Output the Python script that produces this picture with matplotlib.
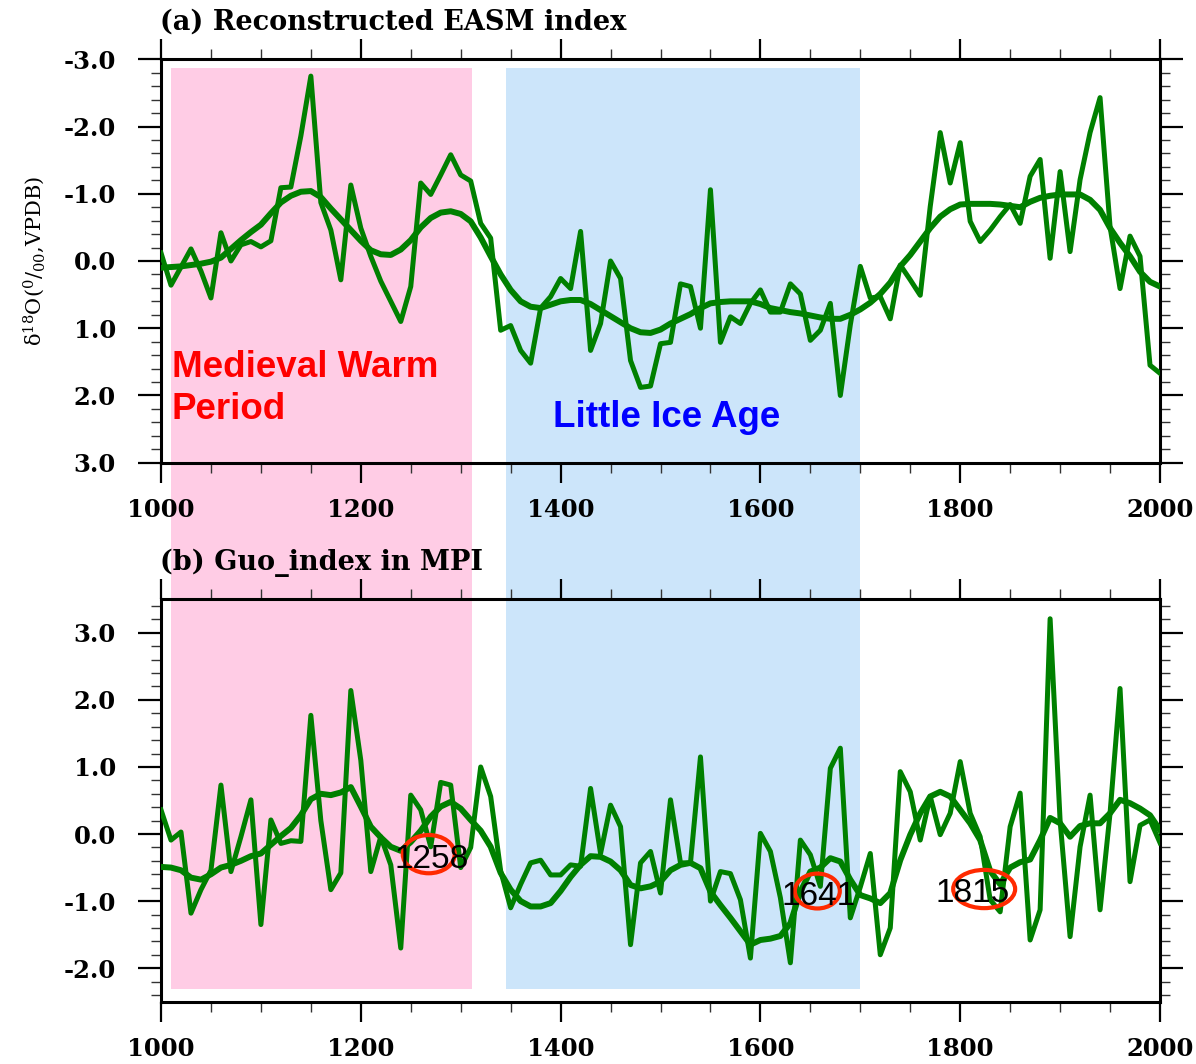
import numpy as np
import matplotlib
matplotlib.use("Agg")
import matplotlib.pyplot as plt
from matplotlib.patches import Ellipse, Rectangle
from matplotlib.ticker import MultipleLocator, FormatStrFormatter
from matplotlib.transforms import blended_transform_factory

plt.rcParams['axes.unicode_minus'] = False
plt.rcParams['mathtext.fontset'] = 'custom'
plt.rcParams['mathtext.rm'] = 'DejaVu Serif'
plt.rcParams['mathtext.it'] = 'DejaVu Serif:italic'

# ---------------- data ----------------
years = list(range(1000, 2001, 10))

easm_recon = [
    -0.12, 0.36, 0.09, -0.18, 0.15, 0.55, -0.42, 0.00, -0.24, -0.29,
    -0.21, -0.30, -1.09, -1.10, -1.86, -2.75, -0.87, -0.46, 0.28, -1.13,
    -0.49, -0.07, 0.30, 0.60, 0.90, 0.38, -1.16, -0.99, -1.28, -1.58,
    -1.28, -1.19, -0.56, -0.34, 1.03, 0.96, 1.33, 1.52, 0.70, 0.53,
    0.26, 0.41, -0.44, 1.33, 0.93, 0.00, 0.26, 1.48, 1.88, 1.86,
    1.23, 1.21, 0.34, 0.38, 1.00, -1.06, 1.21, 0.83, 0.93, 0.63,
    0.43, 0.76, 0.76, 0.34, 0.49, 1.18, 1.03, 0.63, 2.00, 0.95,
    0.08, 0.55, 0.53, 0.86, 0.06, 0.28, 0.51, -0.81, -1.91, -1.16,
    -1.76, -0.59, -0.29, -0.46, -0.66, -0.84, -0.56, -1.26, -1.51, -0.04,
    -1.33, -0.14, -1.21, -1.91, -2.43, -0.51, 0.41, -0.37, -0.07, 1.55,
    1.67]

easm_smooth = [
    0.10, 0.09, 0.08, 0.06, 0.04, 0.01, -0.05, -0.18, -0.31, -0.43,
    -0.54, -0.71, -0.87, -0.97, -1.03, -1.04, -0.95, -0.78, -0.62, -0.46,
    -0.30, -0.16, -0.10, -0.09, -0.17, -0.31, -0.50, -0.64, -0.72, -0.74,
    -0.70, -0.59, -0.35, -0.07, 0.20, 0.43, 0.60, 0.68, 0.70, 0.65,
    0.60, 0.58, 0.58, 0.64, 0.73, 0.82, 0.91, 1.00, 1.06, 1.07,
    1.02, 0.93, 0.86, 0.79, 0.70, 0.63, 0.61, 0.60, 0.60, 0.60,
    0.64, 0.70, 0.73, 0.76, 0.78, 0.81, 0.84, 0.86, 0.86, 0.80,
    0.72, 0.62, 0.49, 0.32, 0.08, -0.09, -0.29, -0.49, -0.66, -0.77,
    -0.84, -0.85, -0.85, -0.85, -0.84, -0.82, -0.80, -0.88, -0.94, -0.97,
    -0.99, -0.99, -0.99, -0.91, -0.76, -0.49, -0.27, -0.07, 0.16, 0.31,
    0.38]

guo_index = [
    0.36, -0.09, 0.03, -1.18, -0.83, -0.54, 0.73, -0.56, -0.04, 0.51,
    -1.35, 0.21, -0.14, -0.10, -0.11, 1.77, 0.20, -0.83, -0.58, 2.14,
    1.10, -0.56, -0.04, -0.46, -1.70, 0.58, 0.36, -0.19, 0.77, 0.73,
    -0.50, -0.20, 1.00, 0.56, -0.55, -1.10, -0.75, -0.43, -0.39, -0.61,
    -0.61, -0.46, -0.48, 0.68, -0.29, 0.43, 0.11, -1.65, -0.43, -0.26,
    -0.88, 0.51, -0.43, -0.43, 1.15, -1.00, -0.56, -0.59, -0.98, -1.85,
    0.01, -0.26, -0.95, -1.92, -0.09, -0.31, -0.78, 0.98, 1.28, -1.25,
    -0.79, -0.29, -1.80, -1.40, 0.93, 0.63, -0.09, 0.56, -0.01, 0.31,
    1.08, 0.31, -0.04, -0.98, -1.16, 0.11, 0.61, -1.58, -1.13, 3.21,
    0.20, -1.53, -0.19, 0.58, -1.13, 0.31, 2.17, -0.71, 0.13, 0.21,
    -0.13]

guo_smooth = [
    -0.49, -0.50, -0.54, -0.65, -0.68, -0.60, -0.50, -0.46, -0.40, -0.33,
    -0.29, -0.16, -0.03, 0.09, 0.28, 0.52, 0.60, 0.58, 0.62, 0.70,
    0.41, 0.11, -0.05, -0.19, -0.25, -0.12, 0.05, 0.26, 0.41, 0.48,
    0.38, 0.21, 0.05, -0.19, -0.58, -0.83, -1.00, -1.08, -1.08, -1.03,
    -0.85, -0.64, -0.46, -0.33, -0.34, -0.41, -0.54, -0.76, -0.81, -0.78,
    -0.71, -0.54, -0.46, -0.43, -0.51, -0.86, -1.06, -1.25, -1.45, -1.65,
    -1.58, -1.56, -1.52, -1.33, -0.86, -0.56, -0.50, -0.36, -0.41, -0.68,
    -0.91, -0.96, -1.03, -0.88, -0.39, -0.01, 0.31, 0.56, 0.63, 0.56,
    0.36, 0.16, -0.09, -0.55, -0.75, -0.50, -0.42, -0.38, -0.09, 0.24,
    0.16, -0.04, 0.12, 0.16, 0.16, 0.31, 0.51, 0.46, 0.38, 0.28,
    0.06]

mwp_period = (1010, 1311)
lia_period = (1345, 1700)

event_labels = ["1258", "1641", "1815"]
event_text_pos = [(1234, -0.51), (1621, -1.06), (1775, -1.01)]
event_ellipse = [(1268, -0.30, 52, 0.57), (1657, -0.85, 45, 0.52), (1824, -0.82, 62, 0.57)]

# ---------------- figure ----------------
W, H = 1196, 1064
fig = plt.figure(figsize=(W / 100, H / 100), dpi=100)

ax1 = fig.add_axes([161 / W, 1 - 462.7 / H, 999 / W, 403.4 / H])
ax2 = fig.add_axes([161 / W, 1 - 1001.7 / H, 999 / W, 402.4 / H])
for ax in (ax1, ax2):
    ax.set_facecolor('none')

green = '#008000'
serif_bold = dict(family='DejaVu Serif', weight='bold')

# shaded periods spanning both panels
tr = blended_transform_factory(ax1.transData, fig.transFigure)
y_lo, y_hi = 1 - 989 / H, 1 - 68 / H
for (p0, p1), col in ((mwp_period, '#FFCCE5'), (lia_period, '#CCE5FA')):
    fig.patches.append(Rectangle((p0, y_lo), p1 - p0, y_hi - y_lo, transform=tr,
                                 facecolor=col, edgecolor='none', zorder=-5))

# panel a
ax1.plot(years, easm_recon, color=green, lw=3.6, zorder=3)
ax1.plot(years, easm_smooth, color=green, lw=4.3, zorder=3)
ax1.set_ylim(3.0, -3.0)
ax1.yaxis.set_major_locator(MultipleLocator(1.0))
ax1.yaxis.set_minor_locator(MultipleLocator(0.2))

# panel b
ax2.plot(years, guo_index, color=green, lw=3.6, zorder=3)
ax2.plot(years, guo_smooth, color=green, lw=4.3, zorder=3)
ax2.set_ylim(-2.5, 3.5)
ax2.yaxis.set_major_locator(MultipleLocator(1.0))
ax2.yaxis.set_minor_locator(MultipleLocator(0.2))

for ax in (ax1, ax2):
    ax.set_xlim(1000, 2000)
    ax.xaxis.set_major_locator(MultipleLocator(200))
    ax.xaxis.set_minor_locator(MultipleLocator(50))
    ax.yaxis.set_major_formatter(FormatStrFormatter('%.1f'))
    ax.xaxis.set_major_formatter(FormatStrFormatter('%d'))
    ax.tick_params(which='both', direction='out', top=True, right=True,
                   labeltop=False, labelright=False)
    ax.tick_params(which='major', width=1.6)
    ax.tick_params(which='minor', length=7.2, width=1.0, color='#333333')
    ax.tick_params(axis='x', which='major', length=14.5, pad=11)
    ax.tick_params(axis='y', which='major', length=16.5, pad=16)
    for lab in ax.get_xticklabels() + ax.get_yticklabels():
        lab.set_fontfamily('DejaVu Serif')
        lab.set_fontweight('bold')
        lab.set_fontsize(17.5)
    for sp in ax.spines.values():
        sp.set_linewidth(2.2)

ax1.set_ylabel('δ$^{18}$O($^{0}$/$_{00}$,VPDB)', family='DejaVu Serif', fontsize=15)
ax1.yaxis.set_label_coords(-0.114, 0.5)

fig.text(160 / W, 1 - 22 / H, '(a) Reconstructed EASM index', ha='left', va='center',
         fontsize=19.5, **serif_bold)
fig.text(160 / W, 1 - 563 / H, '(b) Guo_index in MPI', ha='left', va='center',
         fontsize=19.5, **serif_bold)

ax1.text(1011, 1.73, 'Medieval Warm', color='#FF0000', fontsize=26.5, family='Liberation Sans',
         weight='bold', ha='left', va='baseline', zorder=4)
ax1.text(1011, 2.35, 'Period', color='#FF0000', fontsize=26.5, family='Liberation Sans',
         weight='bold', ha='left', va='baseline', zorder=4)
ax1.text(1392, 2.47, 'Little Ice Age', color='#0000FF', fontsize=26.5, family='Liberation Sans',
         weight='bold', ha='left', va='baseline', zorder=4)

for lab, (tx, ty), (ex, ey, ew, eh) in zip(event_labels, event_text_pos, event_ellipse):
    ax2.add_patch(Ellipse((ex, ey), ew, eh, fill=False, edgecolor='#FF2A00', lw=3.0, zorder=4))
    ax2.text(tx, ty, lab, fontsize=24, family='Liberation Sans', color='black',
             ha='left', va='baseline', zorder=5)

fig.savefig('out.png', dpi=100)
